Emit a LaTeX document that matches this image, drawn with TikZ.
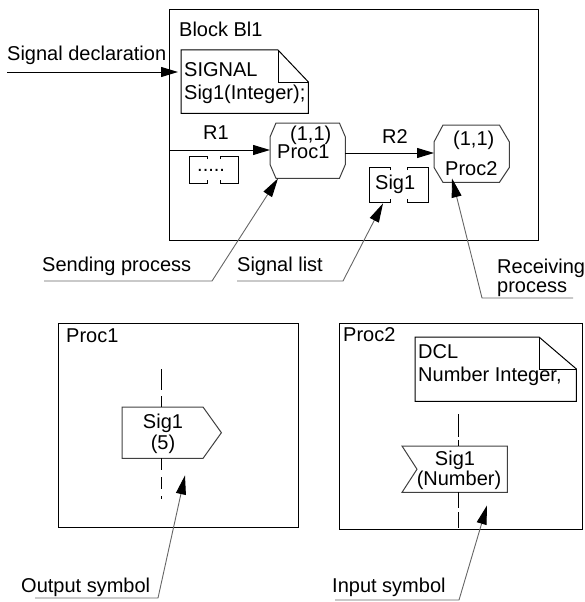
\documentclass[tikz,border=0pt]{standalone}
\usepackage{fontspec}
\setmainfont{Liberation Sans}
\usetikzlibrary{arrows.meta,calc}
\begin{document}
\begin{tikzpicture}[x=1pt,y=-1pt,
  txt/.style={inner sep=0pt, font=\fontsize{20}{24}\selectfont, anchor=base west},
  ctxt/.style={inner sep=0pt, font=\fontsize{20}{24}\selectfont, anchor=base},
  frame/.style={draw=black, line width=1.2pt, inner sep=0pt, anchor=north west},
  ghost/.style={inner sep=0pt, anchor=north west},
  shapeline/.style={draw=black!75, line width=1pt},
  notesline/.style={draw=black, line width=1pt},
  chan/.style={draw=black, line width=1pt, -{Triangle[length=17pt,width=10pt]}},
  pointer/.style={draw=black!60, line width=0.9pt, -{Triangle[length=19pt,width=10pt,color=black]}},
  dashline/.style={draw=black, line width=1pt}
]
\useasboundingbox (0,0) rectangle (584,602);

% ---------- Block Bl1 ----------
\node[frame, minimum width=369pt, minimum height=231pt] (blk) at (169,9) {};
\node[txt] (blktitle) at (179,37) {Block Bl1};

% signal declaration note
\node[ghost, minimum width=127pt, minimum height=63pt] (note1) at (181,50) {};
\draw[notesline] (note1.north west) -- ++(97,0) -- ($(note1.north east)+(0,32)$)
  -- (note1.south east) -- (note1.south west) -- cycle;
\draw[notesline] ($(note1.north west)+(97,0)$) -- ++(0,32) -- ++(30,0);
\node[txt] (sigA) at (184,76) {SIGNAL};
\node[txt] (sigB) at (184,99) {Sig1(Integer);};

\node[txt] (sdlabel) at (7,61) {Signal declaration};
\coordinate (sdstart) at (7,72);
\draw[chan, shorten >=3pt] (sdstart) -- (sdstart -| note1.west);

% Proc1 octagon
\node[ghost, minimum width=75pt, minimum height=55pt] (p1) at (270,123) {};
\draw[shapeline] ($(p1.north west)+(6,0)$) -- ($(p1.north east)+(-6,0)$)
  -- ($(p1.north east)+(0,14)$) -- ($(p1.south east)+(0,-14)$)
  -- ($(p1.south east)+(-6,0)$) -- ($(p1.south west)+(6,0)$)
  -- ($(p1.south west)+(0,-14)$) -- ($(p1.north west)+(0,14)$) -- cycle;
\node[txt] (p1num) at (290,140) {(1,1)};
\node[txt] (p1name) at (277,158) {Proc1};

% Proc2 octagon
\node[ghost, minimum width=75pt, minimum height=57pt] (p2) at (434,125) {};
\draw[shapeline] ($(p2.north west)+(9,0)$) -- ($(p2.north east)+(-10,0)$)
  -- ($(p2.north east)+(0,17)$) -- ($(p2.south east)+(0,-15)$)
  -- ($(p2.south east)+(-10,0)$) -- ($(p2.south west)+(9,0)$)
  -- ($(p2.south west)+(0,-15)$) -- ($(p2.north west)+(0,17)$) -- cycle;
\node[txt] (p2num) at (453,145) {(1,1)};
\node[txt] (p2name) at (445,175) {Proc2};

% channel R1
\coordinate (r1start) at (169,150);
\draw[chan] (r1start) -- (r1start -| p1.west);
\node[txt] (r1lab) at (203,139) {R1};
% signal list of R1
\node[ghost, minimum width=49pt, minimum height=27pt] (sl1) at (189,156) {};
\draw[notesline] ($(sl1.north west)+(18,3)$) -- ++(0,-3) -- (sl1.north west) -- (sl1.south west) -- ++(18,0) -- ++(0,-3);
\draw[notesline] ($(sl1.north east)+(-18,3)$) -- ++(0,-3) -- (sl1.north east) -- (sl1.south east) -- ++(-18,0) -- ++(0,-3);
\node[txt] (sl1dots) at (197,171) {.....};

% channel R2
\draw[chan] (p1.east |- 0,153) -- (p2.west |- 0,153);
\node[txt] (r2lab) at (382,143) {R2};
% signal list of R2
\node[ghost, minimum width=59pt, minimum height=35pt] (sl2) at (369,167) {};
\draw[notesline] ($(sl2.north west)+(21,3)$) -- ++(0,-3) -- (sl2.north west) -- (sl2.south west) -- ++(21,0) -- ++(0,-3);
\draw[notesline] ($(sl2.north east)+(-21,3)$) -- ++(0,-3) -- (sl2.north east) -- (sl2.south east) -- ++(-21,0) -- ++(0,-3);
\node[txt] (sl2txt) at (375,189) {Sig1};

% pointers (upper)
\node[txt] (sendlab) at (42,271) {Sending process};
\coordinate (sendA) at (44,281);
\coordinate (sendB) at (212,281);
\draw[pointer] (sendA) -- (sendB) -- ($(p1.south west)+(8,0)$);

\node[txt] (listlab) at (237,271) {Signal list};
\coordinate (listA) at (237,281);
\coordinate (listB) at (343,281);
\draw[pointer] (listA) -- (listB) -- ($(sl2.south west)+(14,1)$);

\node[txt] (reclab1) at (497,273) {Receiving};
\node[txt] (reclab2) at (497,292) {process};
\coordinate (recA) at (573,298);
\coordinate (recB) at (482,298);
\draw[pointer] (recA) -- (recB) -- ($(p2.south west)+(18,-4)$);

% ---------- Proc1 diagram ----------
\node[frame, minimum width=240pt, minimum height=204pt] (proc1box) at (58,323) {};
\node[txt] (proc1title) at (66,342) {Proc1};
\node[ghost, minimum width=99pt, minimum height=51pt] (out) at (122,407) {};
\draw[shapeline] (out.north west) -- ++(81,0) -- (out.east) -- ($(out.south west)+(81,0)$)
  -- (out.south west) -- cycle;
\node[ctxt] (outA) at (163,428) {Sig1};
\node[ctxt] (outB) at (163,449) {(5)};
\coordinate (d1) at (161,369);
\coordinate (d2) at (161,499);
\draw[dashline, dash pattern=on 21pt off 6pt] (d1) -- (d1 |- out.north);
\draw[dashline, dash pattern=on 12pt off 7pt] (d1 |- out.south) -- (d2);

\node[txt] (outlab) at (21,592) {Output symbol};
\coordinate (outpA) at (35,598);
\coordinate (outpB) at (158,598);
\draw[pointer] (outpA) -- (outpB) -- ($(out.south west)+(63,17)$);

% ---------- Proc2 diagram ----------
\node[frame, minimum width=243pt, minimum height=206pt] (proc2box) at (339,323) {};
\node[txt] (proc2title) at (343,341) {Proc2};
\node[ghost, minimum width=161pt, minimum height=64pt] (dcl) at (415,337) {};
\draw[notesline] (dcl.north west) -- ++(124,0) -- ($(dcl.north east)+(0,32)$)
  -- (dcl.south east) -- (dcl.south west) -- cycle;
\draw[notesline] ($(dcl.north west)+(124,0)$) -- ++(0,32) -- ++(37,0);
\node[txt] (dclA) at (418,358) {DCL};
\node[txt] (dclB) at (418,381) {Number Integer,};

\node[ghost, minimum width=105pt, minimum height=46pt] (inp) at (402,446) {};
\draw[shapeline] (inp.north west) -- (inp.north east) -- (inp.south east) -- (inp.south west)
  -- ($(inp.west)+(15,0)$) -- cycle;
\node[ctxt] (inpA) at (455,465) {Sig1};
\node[ctxt] (inpB) at (459,485) {(Number)};
\coordinate (d3) at (458,414);
\coordinate (d4) at (458,528);
\draw[dashline, dash pattern=on 23pt off 3pt] (d3) -- (d3 |- inp.north);
\draw[dashline, dash pattern=on 16pt off 4pt] (d3 |- inp.south) -- (d4);

\node[txt] (inplab) at (332,592) {Input symbol};
\coordinate (inpA1) at (335,600);
\coordinate (inpB1) at (459,600);
\draw[pointer] (inpA1) -- (inpB1) -- ($(inp.south west)+(85,13)$);
\end{tikzpicture}
\end{document}
